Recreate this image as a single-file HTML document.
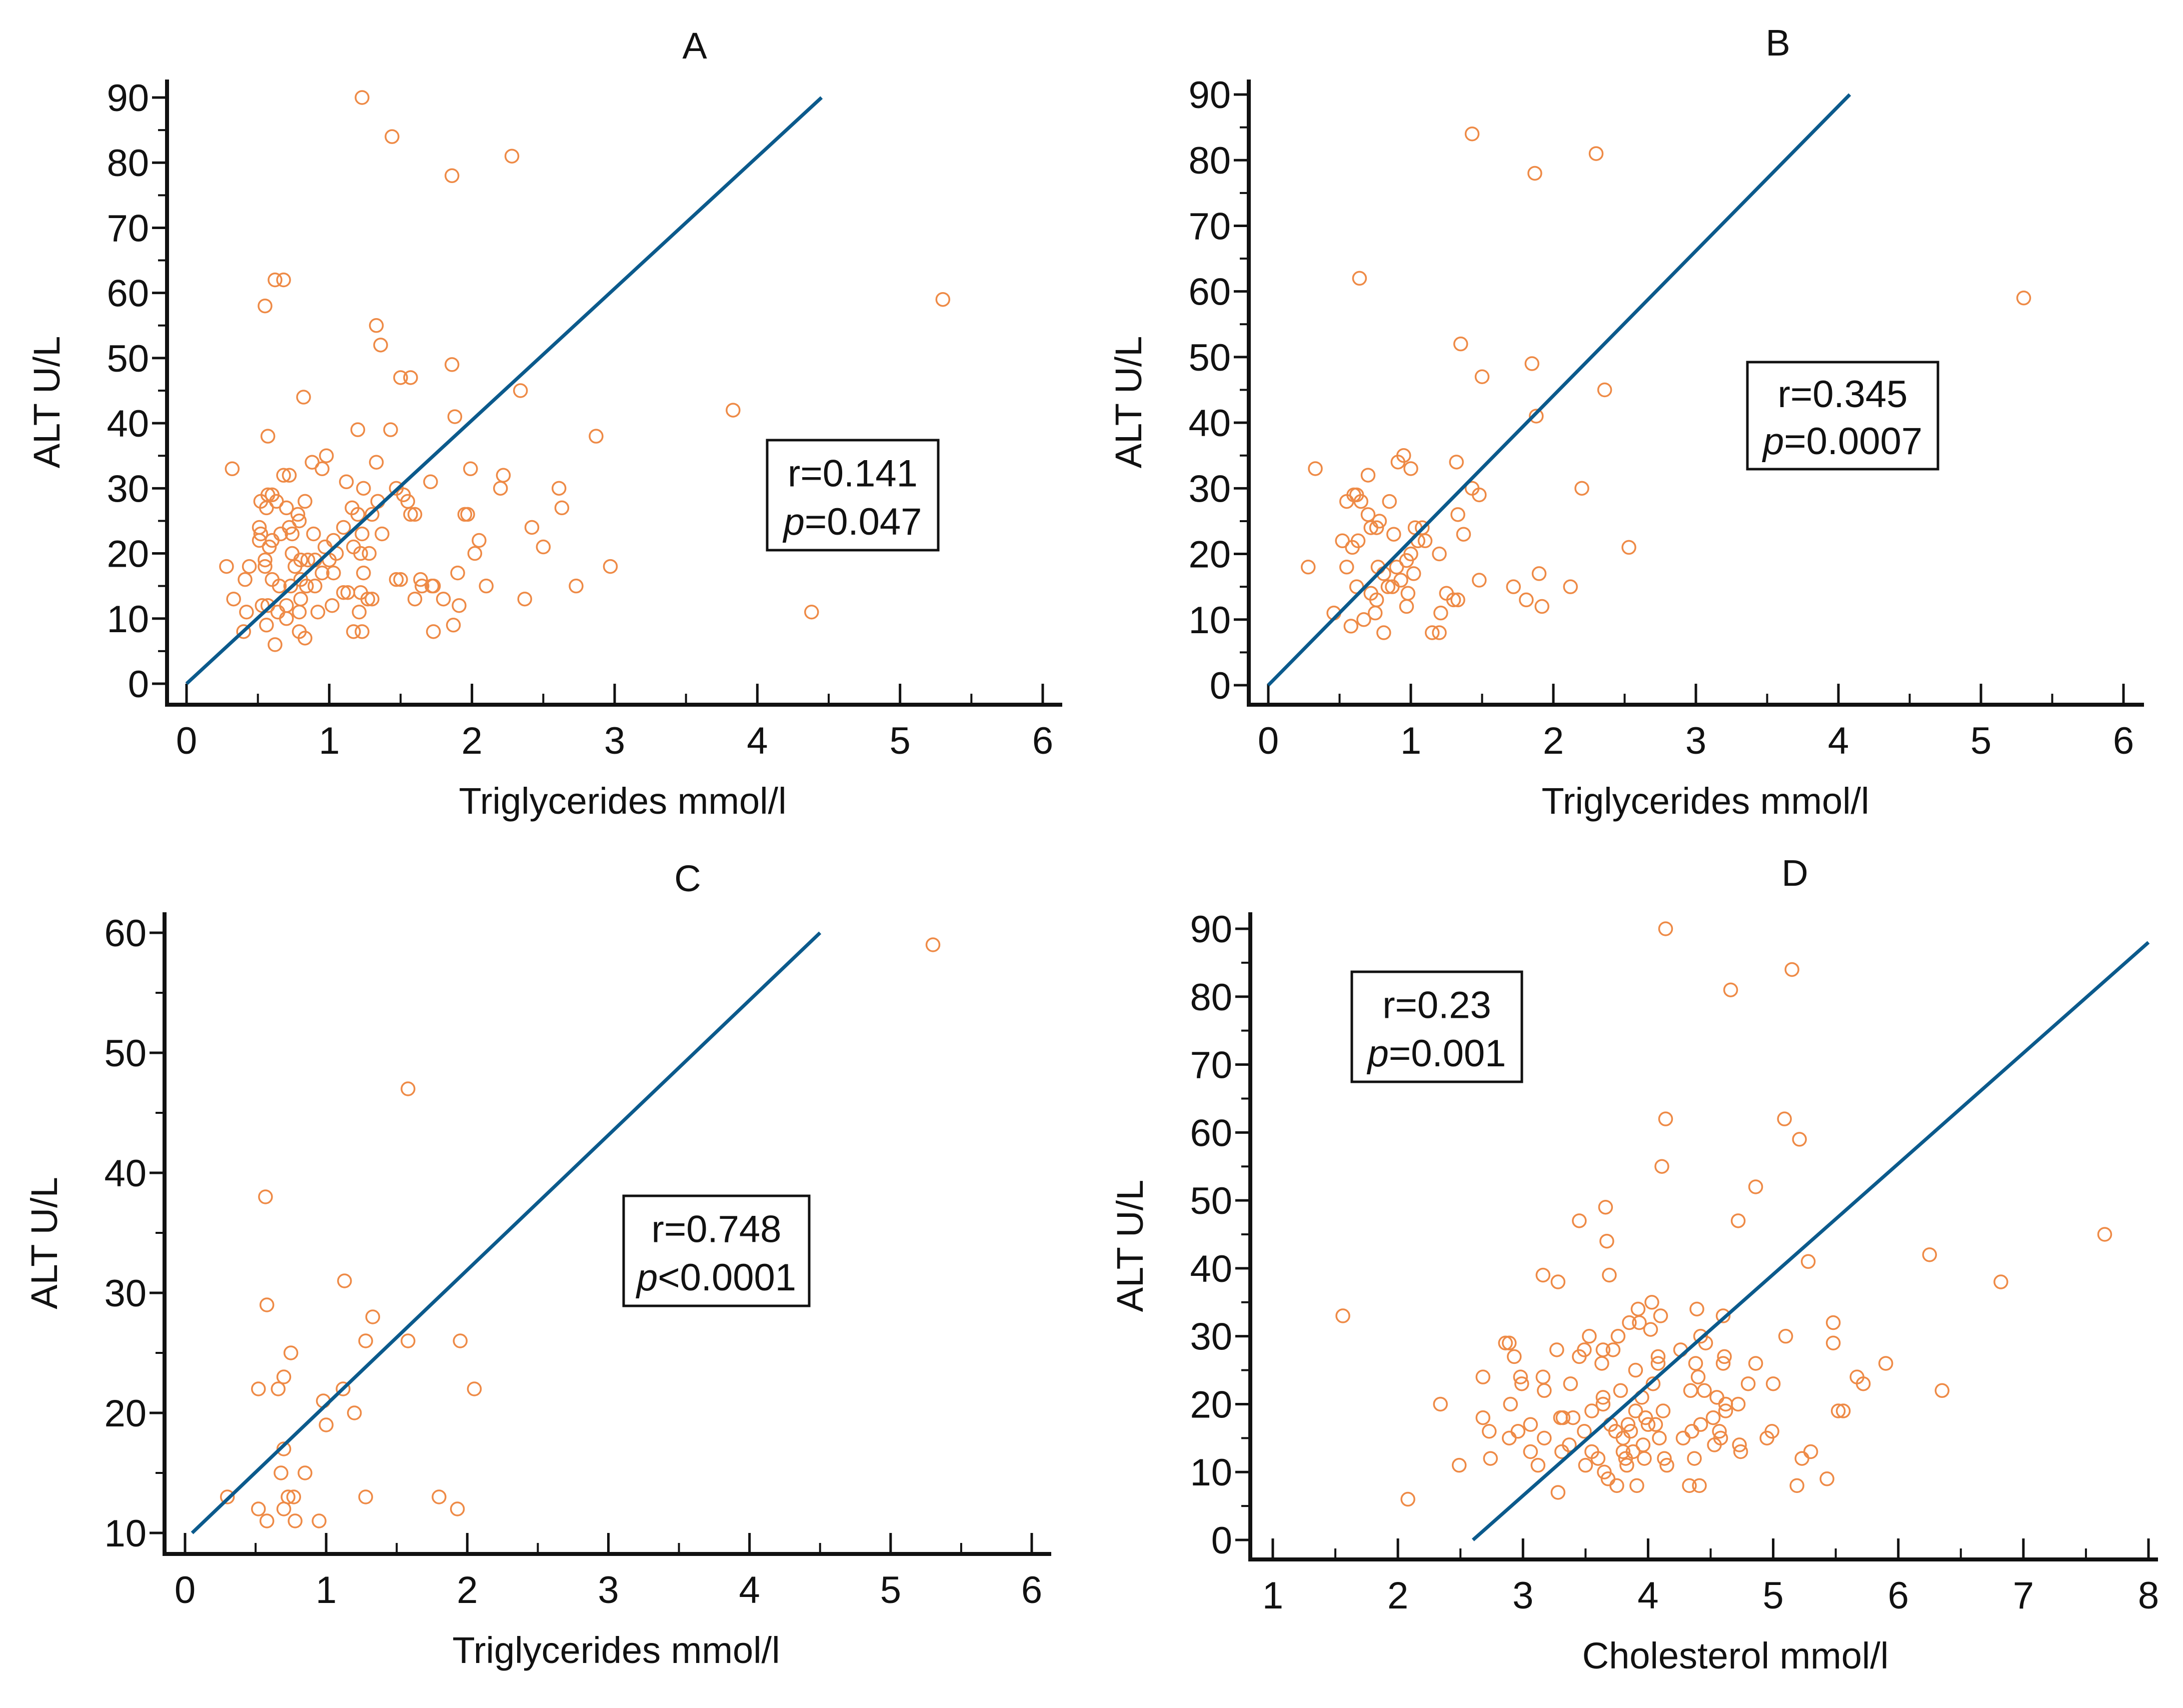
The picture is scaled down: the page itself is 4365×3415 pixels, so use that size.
<!DOCTYPE html>
<html><head><meta charset="utf-8"><style>
html,body{margin:0;padding:0;background:#fff}
svg{display:block}
text{font-family:"Liberation Sans",sans-serif;fill:#111}
</style></head><body>
<svg id="fig" width="4365" height="3415" viewBox="0 0 4365 3415" xmlns="http://www.w3.org/2000/svg"></svg>
<script>
// ---- data (x, y pairs as separate arrays) ----
const aX=[1.23,1.44,2.28,1.86,0.62,0.68,0.55,1.33,1.36,1.86,1.5,1.57,0.82,2.34,1.88,3.83,1.2,1.43,0.57,2.87,0.32,0.98,0.88,0.95,1.33,0.68,0.72,1.12,1.71,1.99,2.22,2.2,2.61,0.57,0.6,0.52,0.63,0.83,1.24,1.47,1.52,1.55,1.34,0.56,0.7,0.78,1.16,1.2,1.3,1.57,1.6,1.95,1.97,2.63,0.51,0.72,0.79,1.1,2.42,0.52,0.66,0.74,0.89,1.23,1.37,0.51,0.6,1.03,2.05,0.58,0.97,1.17,2.5,0.74,1.05,1.22,1.28,2.02,0.55,0.8,0.85,0.9,1.0,0.28,0.44,0.55,0.76,2.97,0.41,0.6,0.8,0.95,1.03,1.24,1.47,1.5,1.64,1.9,0.65,0.73,0.84,0.9,1.65,1.72,1.73,2.1,2.73,0.33,0.53,0.7,0.8,1.1,1.13,1.22,1.27,1.3,1.6,1.8,2.37,0.42,0.57,0.64,0.7,0.79,0.92,1.02,1.21,1.91,4.38,0.4,0.56,0.62,0.79,0.83,1.17,1.23,1.73,1.87,5.3];
const aY=[90,84,81,78,62,62,58,55,52,49,47,47,44,45,41,42,39,39,38,38,33,35,34,33,34,32,32,31,31,33,32,30,30,29,29,28,28,28,30,30,29,28,28,27,27,26,27,26,26,26,26,26,26,27,24,24,25,24,24,23,23,23,23,23,23,22,22,22,22,21,21,21,21,20,20,20,20,20,19,19,19,19,19,18,18,18,18,18,16,16,16,17,17,17,16,16,16,17,15,15,15,15,15,15,15,15,15,13,12,12,13,14,14,14,13,13,13,13,13,11,12,11,10,11,11,12,11,12,11,8,9,6,8,7,8,8,8,9,59];
const bX=[1.43,1.87,2.3,0.64,1.35,1.85,1.5,1.88,2.36,5.3,0.33,0.7,0.95,0.91,1.0,0.6,0.55,0.65,0.85,0.62,1.32,1.43,1.48,1.33,1.37,0.7,0.78,0.72,0.76,1.03,1.08,0.52,0.59,0.63,0.88,1.05,1.1,1.2,0.55,0.28,0.77,0.81,0.9,0.97,1.02,0.93,0.87,0.84,1.25,1.3,1.33,1.48,1.72,1.9,0.62,0.46,0.67,0.75,0.76,0.72,0.97,1.21,1.15,1.2,0.81,0.58,1.81,1.92,2.12,2.2,2.53,1.0,0.98];
const bY=[84,78,81,62,52,49,47,41,45,59,33,32,35,34,33,29,28,28,28,29,34,30,29,26,23,26,25,24,24,24,24,22,21,22,23,22,22,20,18,18,18,17,18,19,17,16,15,15,14,13,13,16,15,17,15,11,10,11,13,14,12,11,8,8,8,9,13,12,15,30,21,20,14];
const cX=[5.3,1.58,0.57,0.58,1.13,1.33,1.28,1.58,1.95,2.05,0.75,0.7,0.52,0.66,1.12,0.98,1.2,1.0,0.7,0.68,0.85,0.77,0.73,0.3,1.28,1.8,0.52,0.7,1.93,0.58,0.78,0.95];
const cY=[59,47,38,29,31,28,26,26,26,22,25,23,22,22,22,21,20,19,17,15,15,13,13,13,13,13,12,12,12,11,11,11];
const dX=[1.56,2.08,2.34,2.49,2.68,2.68,2.73,2.74,2.86,2.89,2.9,2.89,2.93,2.96,2.98,2.99,3.06,3.06,3.12,3.16,3.17,3.17,3.16,3.28,3.27,3.28,3.3,3.32,3.31,3.37,3.38,3.4,3.45,3.45,3.49,3.49,3.5,3.53,3.55,3.55,3.6,3.63,3.64,3.64,3.64,3.65,3.66,3.67,3.68,3.69,3.7,3.72,3.74,3.75,3.76,3.78,3.8,3.8,3.82,3.83,3.84,3.85,3.86,3.88,3.9,3.9,3.91,3.92,3.93,3.95,3.96,3.97,3.98,4.0,4.02,4.03,4.04,4.06,4.08,4.08,4.09,4.1,4.11,4.12,4.13,4.14,4.14,4.15,4.26,4.28,4.33,4.34,4.35,4.37,4.38,4.39,4.4,4.41,4.42,4.42,4.45,4.46,4.52,4.53,4.55,4.57,4.58,4.6,4.6,4.61,4.62,4.62,4.66,4.72,4.72,4.73,4.74,4.8,4.86,4.86,4.95,4.99,5.0,5.09,5.1,5.15,5.19,5.21,5.23,5.28,5.3,5.43,5.48,5.48,5.52,5.56,5.67,5.72,5.9,6.25,6.35,6.82,7.65];
const dY=[33,6,20,11,24,18,16,12,29,29,20,15,27,16,24,23,17,13,11,24,22,15,39,38,28,7,18,18,13,14,23,18,47,27,28,16,11,30,19,13,12,26,28,21,20,10,49,44,9,39,17,28,16,8,30,22,15,13,12,11,17,32,16,13,25,19,8,34,32,21,14,12,18,17,31,35,23,17,27,26,15,33,55,19,12,62,90,11,28,15,8,22,16,12,26,34,24,8,17,30,22,29,18,14,21,16,15,26,33,27,20,19,81,47,20,14,13,23,52,26,15,16,23,62,30,84,8,59,12,41,13,9,32,29,19,19,24,23,26,42,22,38,45];
// regression line endpoints [x1,y1,x2,y2] in data units
const aFit=[0,0,4.45,90], bFit=[0,0,4.08,90], cFit=[0.05,10,4.5,60], dFit=[2.6,0,8,88];
const aXTicks=[0,1,2,3,4,5,6], aYTicks=[0,10,20,30,40,50,60,70,80,90];
const cYTicks=[10,20,30,40,50,60];
const dXTicks=[1,2,3,4,5,6,7,8];

const NS="http://www.w3.org/2000/svg";
const svg=document.getElementById('fig');
function mk(tag,attrs,parent,txt){const e=document.createElementNS(NS,tag);for(const k in attrs)e.setAttribute(k,attrs[k]);if(txt!==undefined)e.textContent=txt;(parent||svg).appendChild(e);return e;}

function panel(p){
  const g=mk('g',{});
  
  
  const sx=v=>p.px0+(v-p.xmin)/(p.xmax-p.xmin)*(p.px1-p.px0);
  const sy=v=>p.py0+(v-p.ymin)/(p.ymax-p.ymin)*(p.py1-p.py0);
  const t=mk('text',{x:p.titleX,y:p.titleY,'font-size':74,'text-anchor':'middle'},g,p.id);
  
  // axes
  const ax=mk('path',{d:`M${p.axX} ${p.top} L${p.axX} ${p.axY} L${p.right} ${p.axY}`,stroke:'#111','stroke-width':8,fill:'none'},g);
  
  // x ticks
  p.xt.forEach((v,i)=>{
    const x=sx(v);
    mk('line',{x1:x,y1:p.axY,x2:x,y2:p.axY-42,stroke:'#111','stroke-width':5},g);
    if(i<p.xt.length-1){const xm=sx(v+(p.xt[1]-p.xt[0])/2);mk('line',{x1:xm,y1:p.axY,x2:xm,y2:p.axY-22,stroke:'#111','stroke-width':4},g);}
    const l=mk('text',{x:x,y:p.axY+98,'font-size':76,'text-anchor':'middle'},g,v);
    
  });
  p.yt.forEach((v,i)=>{
    const y=sy(v);
    mk('line',{x1:p.axX,y1:y,x2:p.axX-30,y2:y,stroke:'#111','stroke-width':5},g);
    if(i<p.yt.length-1){const ym=sy(v+(p.yt[1]-p.yt[0])/2);mk('line',{x1:p.axX,y1:ym,x2:p.axX-18,y2:ym,stroke:'#111','stroke-width':4},g);}
    const l=mk('text',{x:p.axX-36,y:y+27,'font-size':76,'text-anchor':'end'},g,v);
    
  });
  const xl=mk('text',{x:p.xlX,y:p.axY+218,'font-size':74,'text-anchor':'middle'},g,p.xlabel);
  
  const yc=(p.top+p.axY)/2+20;
  const yl=mk('text',{x:0,y:0,'font-size':74,'text-anchor':'middle',transform:`translate(${p.axX-215},${yc}) rotate(-90)`},g,'ALT U/L');
  
  // points
  p.xs.forEach((xv,i)=>{
    const c=mk('circle',{cx:sx(xv),cy:sy(p.ys[i]),r:13,fill:'none',stroke:'#ee8a46','stroke-width':3.5},g);
    
    
  });
  const f=p.fit;
  const ln=mk('line',{x1:sx(f[0]),y1:sy(f[1]),x2:sx(f[2]),y2:sy(f[3]),stroke:'#0b5a8c','stroke-width':7},g);
  
  // stats box
  const b=p.box;
  const bg=mk('g',{},g);
  
  mk('rect',{x:b[0],y:b[1],width:b[2]-b[0],height:b[3]-b[1],fill:'#fff',stroke:'#111','stroke-width':5},bg);
  const cx=(b[0]+b[2])/2, h=b[3]-b[1];
  mk('text',{x:cx,y:b[1]+h*0.42,'font-size':76,'text-anchor':'middle'},bg,p.r);
  const pt=mk('text',{x:cx,y:b[1]+h*0.86,'font-size':76,'text-anchor':'middle'},bg);
  mk('tspan',{'font-style':'italic'},pt,'p');
  mk('tspan',{},pt,p.pv);
}

panel({id:'A',xs:aX,ys:aY,fit:aFit,xt:aXTicks,yt:aYTicks,xmin:0,xmax:6,ymin:0,ymax:90,
  px0:373,px1:2085,py0:1367,py1:195,axX:334,axY:1409,right:2124,top:159,
  titleX:1389,titleY:117,xlX:1245,xlabel:'Triglycerides mmol/l',box:[1534,880,1876,1100],r:'r=0.141',pv:'=0.047'});
panel({id:'B',xs:bX,ys:bY,fit:bFit,xt:aXTicks,yt:aYTicks,xmin:0,xmax:6,ymin:0,ymax:90,
  px0:2536,px1:4246,py0:1370,py1:189,axX:2497,axY:1409,right:4287,top:159,
  titleX:3555,titleY:111,xlX:3410,xlabel:'Triglycerides mmol/l',box:[3494,724,3875,938],r:'r=0.345',pv:'=0.0007'});
panel({id:'C',xs:cX,ys:cY,fit:cFit,xt:aXTicks,yt:cYTicks,xmin:0,xmax:6,ymin:10,ymax:60,
  px0:370,px1:2063,py0:3065,py1:1865,axX:329,axY:3107,right:2102,top:1824,
  titleX:1375,titleY:1782,xlX:1232,xlabel:'Triglycerides mmol/l',box:[1247,2391,1618,2611],r:'r=0.748',pv:'<0.0001'});
panel({id:'D',xs:dX,ys:dY,fit:dFit,xt:dXTicks,yt:aYTicks,xmin:1,xmax:8,ymin:0,ymax:90,
  px0:2545,px1:4296,py0:3079,py1:1857,axX:2500,axY:3118,right:4315,top:1824,
  titleX:3589,titleY:1771,xlX:3470,xlabel:'Cholesterol mmol/l',box:[2703,1943,3043,2163],r:'r=0.23',pv:'=0.001'});
</script>
</body></html>
